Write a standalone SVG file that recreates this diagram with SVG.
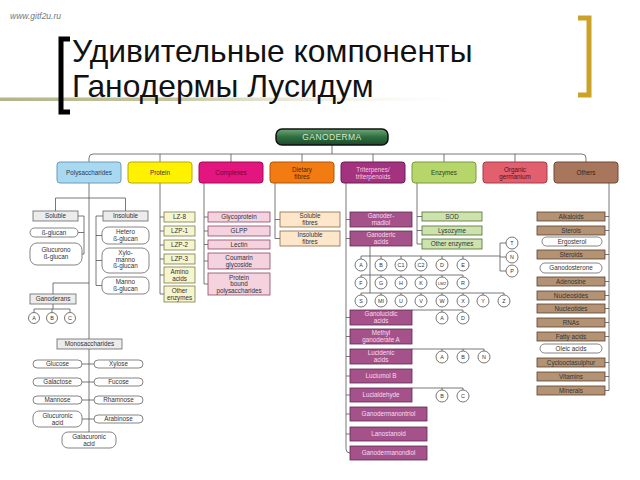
<svg xmlns="http://www.w3.org/2000/svg" width="640" height="480" viewBox="0 0 640 480">
<defs>
<linearGradient id="olive" x1="0" y1="0" x2="1" y2="0">
<stop offset="0" stop-color="#b2b58a"/><stop offset="0.35" stop-color="#c3c6a0"/><stop offset="1" stop-color="#ffffff" stop-opacity="0"/>
</linearGradient>
<linearGradient id="gano" x1="0" y1="0" x2="0" y2="1">
<stop offset="0" stop-color="#6fa87c"/><stop offset="0.5" stop-color="#2f6e40"/><stop offset="1" stop-color="#1c4a2a"/>
</linearGradient>
<style>
.t{font-family:"Liberation Sans",Arial,sans-serif;font-size:6.3px;text-anchor:middle;fill:#333}
.s{font-size:5.4px}
.ln{stroke:#555;stroke-width:0.8;fill:none}
.gb{fill:#ececec;stroke:#666;stroke-width:0.8}
.pl{fill:#fff;stroke:#666;stroke-width:0.8}
.yb{fill:#f5f5cf;stroke:#7a7a48;stroke-width:0.8}
.pb{fill:#f4d2de;stroke:#8c4a66;stroke-width:0.8}
.fb{fill:#fde6ca;stroke:#8a6a44;stroke-width:0.8}
.tb{fill:#a6528a;stroke:#5e2a50;stroke-width:0.8}
.eb{fill:#cde3ae;stroke:#4e6e34;stroke-width:0.8}
.ob{fill:#b39373;stroke:#5a4030;stroke-width:0.8}
.ci{fill:#fff;stroke:#555;stroke-width:0.8}
.tl{fill:#f6dcec}
.cat{stroke-width:1}
</style>
</defs>
<rect width="640" height="480" fill="#fff"/>
<!-- title -->
<text x="10" y="19" font-family="Liberation Sans,Arial,sans-serif" font-size="8.5" font-style="italic" fill="#777">www.gitf2u.ru</text>
<rect x="0" y="97.5" width="490" height="3.5" fill="url(#olive)"/>
<path d="M70 39 H61 V112 H70" stroke="#000" stroke-width="5" fill="none"/>
<path d="M578 18 H589 V95 H578" stroke="#c9a227" stroke-width="5" fill="none"/>
<text x="72" y="62" font-family="Liberation Sans,Arial,sans-serif" font-size="31.8" fill="#111">Удивительные компоненты</text>
<text x="72" y="97" font-family="Liberation Sans,Arial,sans-serif" font-size="31.8" fill="#111">Ганодермы Лусидум</text>

<g id="connectors" class="ln">
<path d="M332 145 V154 M89 162 V158 Q89 154 93 154 H582 Q586 154 586 158 V162 M160 154 V162 M231 154 V162 M302 154 V162 M373 154 V162 M444 154 V162 M515 154 V162"/>
<!-- polysaccharides -->
<path d="M89 183 V432 M55.5 211 V198 H125.5 V211"/>
<path d="M78 216 H84 V254 M78 232.5 H84 M82 254 H84"/>
<path d="M103 216 H96 V285.5 M96 235.5 H102 M96 260.5 H102 M96 285.5 H102"/>
<path d="M89 283 H53 V294 M53 304 V309 M34 309 H70 M34 309 V312.5 M52 309 V312.5 M70 309 V312.5"/>
<path d="M82 364 H94 M82 382 H94 M82 400 H94 M82 419 H94"/>
<!-- protein -->
<path d="M160 183 V294 M160 217 H164 M160 231 H164 M160 245 H164 M160 259 H164 M160 275 H164 M160 294 H164"/>
<!-- complexes -->
<path d="M204 183 V284 M204 217 H208 M204 231 H208 M204 244.5 H208 M204 261 H208 M204 284 H208"/>
<!-- dietary -->
<path d="M275 183 V238.5 M275 219.5 H280 M275 238.5 H280"/>
<!-- triterpenes -->
<path d="M346 183 V449 Q346 453 350 453 M346 219.5 H350 M346 238.5 H350 M346 317.5 H350 M346 336.5 H350 M346 356.5 H350 M346 376 H350 M346 395 H350 M346 414 H350 M346 434 H350"/>
<path d="M370 246 V293 M361 256 H500 M361 275 H463 M361 293 H504"/>
<path d="M361 256 V259 M381 256 V259 M401 256 V259 M421 256 V259 M442 256 V259 M463 256 V259"/>
<path d="M361 275 V277 M381 275 V277 M401 275 V277 M421 275 V277 M442 275 V277 M463 275 V277"/>
<path d="M361 293 V295 M381 293 V295 M401 293 V295 M421 293 V295 M442 293 V295 M463 293 V295 M483 293 V295 M504 293 V295"/>
<path d="M500 243 V271 M500 243 H506 M500 257 H506 M500 271 H506"/>
<path d="M412 310 H463 M442 310 V312 M463 310 V312"/>
<path d="M412 349 H484 M442 349 V351 M463 349 V351 M484 349 V351"/>
<path d="M412 388 H463 M442 388 V390 M463 388 V390"/>
<!-- enzymes -->
<path d="M417 183 V244 M417 216.5 H422 M417 230.5 H422 M417 244 H422"/>
<!-- others -->
<path d="M609 183 V390.5 M605 216.5 H609 M605 230.5 H609 M605 254.5 H609 M605 281.5 H609 M605 295.5 H609 M605 308.5 H609 M605 322.5 H609 M605 336.5 H609 M605 362.5 H609 M605 376.5 H609 M605 390.5 H609"/>
</g>

<g id="ganoderma"><rect x="276" y="129" width="112" height="16" rx="6" fill="url(#gano)" stroke="#111" stroke-width="1.5"/><text class="t" x="332" y="140.3" style="font-size:8.5px;fill:#d6e8d0;letter-spacing:0.4px">GANODERMA</text></g>

<g id="cat-polysaccharides"><rect class="cat" x="57" y="162" width="64" height="21" rx="3" fill="#a9d9f1" stroke="#6a9ab8"/><text class="t" x="89" y="175" style="fill:#1e3d5c">Polysaccharides</text></g>
<g id="cat-protein"><rect class="cat" x="128" y="162" width="64" height="21" rx="3" fill="#fff200" stroke="#b8a800"/><text class="t" x="160" y="175">Protein</text></g>
<g id="cat-complexes"><rect class="cat" x="199" y="162" width="64" height="21" rx="3" fill="#e2167e" stroke="#a00a56"/><text class="t" x="231" y="175" style="fill:#7a0038">Complexes</text></g>
<g id="cat-dietary"><rect class="cat" x="270" y="162" width="64" height="21" rx="3" fill="#f27b12" stroke="#b0560a"/><text class="t" x="302" y="171.5" style="fill:#5a2400">Dietary<tspan x="302" dy="7">fibres</tspan></text></g>
<g id="cat-triterpenes"><rect class="cat" x="341" y="162" width="64" height="21" rx="3" fill="#a3327f" stroke="#6e1a56"/><text class="t" x="373" y="171.5" style="fill:#f3cde6">Triterpenes/<tspan x="373" dy="7">triterpenoids</tspan></text></g>
<g id="cat-enzymes"><rect class="cat" x="412" y="162" width="64" height="21" rx="3" fill="#b6d66c" stroke="#7a9a3a"/><text class="t" x="444" y="175" style="fill:#2e3e14">Enzymes</text></g>
<g id="cat-organic"><rect class="cat" x="483" y="162" width="64" height="21" rx="3" fill="#e2606e" stroke="#a83a48"/><text class="t" x="515" y="171.5" style="fill:#5a0e1a">Organic<tspan x="515" dy="7">germanium</tspan></text></g>
<g id="cat-others"><rect class="cat" x="554" y="162" width="64" height="21" rx="3" fill="#a8765c" stroke="#704a34"/><text class="t" x="586" y="175" style="fill:#3a1e10">Others</text></g>

<!-- polysaccharides -->
<g id="soluble"><rect class="gb" x="33" y="211" width="45" height="10"/><text class="t" x="55.5" y="218.3">Soluble</text></g>
<g id="insoluble"><rect class="gb" x="103" y="211" width="45" height="10"/><text class="t" x="125.5" y="218.3">Insoluble</text></g>
<g id="b-glucan"><rect class="pl" x="30" y="228" width="48" height="9" rx="4.5"/><text class="t" x="54" y="234.8">ß-glucan</text></g>
<g id="glucurono"><rect class="pl" x="30" y="243" width="52" height="22" rx="7"/><text class="t" x="56" y="252">Glucurono<tspan x="56" dy="7">ß-glucan</tspan></text></g>
<g id="hetero"><rect class="pl" x="102" y="227" width="47" height="17" rx="6"/><text class="t" x="125.5" y="234">Hetero<tspan x="125.5" dy="6.5">ß-glucan</tspan></text></g>
<g id="xylomanno"><rect class="pl" x="102" y="248" width="47" height="25" rx="7"/><text class="t" x="125.5" y="255">Xylo-<tspan x="125.5" dy="6.5">manno</tspan><tspan x="125.5" dy="6.5">ß-glucan</tspan></text></g>
<g id="manno"><rect class="pl" x="102" y="277" width="47" height="17" rx="6"/><text class="t" x="125.5" y="284">Manno<tspan x="125.5" dy="6.5">ß-glucan</tspan></text></g>
<g id="ganoderans"><rect class="gb" x="30" y="294" width="46" height="10"/><text class="t" x="53" y="301.3">Ganoderans</text></g>
<g id="gd-a"><circle class="ci" cx="34" cy="318" r="5.5"/><text class="t s" x="34" y="320">A</text></g>
<g id="gd-b"><circle class="ci" cx="52" cy="318" r="5.5"/><text class="t s" x="52" y="320">B</text></g>
<g id="gd-c"><circle class="ci" cx="70" cy="318" r="5.5"/><text class="t s" x="70" y="320">C</text></g>
<g id="monosaccharides"><rect class="gb" x="57" y="339" width="65" height="10"/><text class="t" x="89.5" y="346.3">Monosaccharides</text></g>
<g id="glucose"><rect class="pl" x="33" y="360" width="49" height="8" rx="4"/><text class="t" x="57.5" y="366.2">Glucose</text></g>
<g id="xylose"><rect class="pl" x="94" y="360" width="49" height="8" rx="4"/><text class="t" x="118.5" y="366.2">Xylose</text></g>
<g id="galactose"><rect class="pl" x="33" y="378" width="49" height="8" rx="4"/><text class="t" x="57.5" y="384.2">Galactose</text></g>
<g id="fucose"><rect class="pl" x="94" y="378" width="49" height="8" rx="4"/><text class="t" x="118.5" y="384.2">Fucose</text></g>
<g id="mannose"><rect class="pl" x="33" y="396" width="49" height="8" rx="4"/><text class="t" x="57.5" y="402.2">Mannose</text></g>
<g id="rhamnose"><rect class="pl" x="94" y="396" width="49" height="8" rx="4"/><text class="t" x="118.5" y="402.2">Rhamnose</text></g>
<g id="glucuronic"><rect class="pl" x="33" y="411" width="49" height="16" rx="6"/><text class="t" x="57.5" y="418">Glucuronic<tspan x="57.5" dy="6.5">acid</tspan></text></g>
<g id="arabinose"><rect class="pl" x="94" y="415" width="49" height="8" rx="4"/><text class="t" x="118.5" y="421.2">Arabinose</text></g>
<g id="galacuronic"><rect class="pl" x="62" y="432" width="54" height="16" rx="6"/><text class="t" x="89" y="439">Galacuronic<tspan x="89" dy="6.5">acid</tspan></text></g>

<!-- protein -->
<g id="lz8"><rect class="yb" x="164" y="212" width="31" height="10"/><text class="t" x="179.5" y="219.3">LZ-8</text></g>
<g id="lzp1"><rect class="yb" x="164" y="226" width="31" height="10"/><text class="t" x="179.5" y="233.3">LZP-1</text></g>
<g id="lzp2"><rect class="yb" x="164" y="240" width="31" height="10"/><text class="t" x="179.5" y="247.3">LZP-2</text></g>
<g id="lzp3"><rect class="yb" x="164" y="254" width="31" height="10"/><text class="t" x="179.5" y="261.3">LZP-3</text></g>
<g id="amino"><rect class="yb" x="164" y="267" width="31" height="16"/><text class="t" x="179.5" y="274">Amino<tspan x="179.5" dy="6.5">acids</tspan></text></g>
<g id="otherenz-p"><rect class="yb" x="164" y="286" width="31" height="16"/><text class="t" x="179.5" y="293">Other<tspan x="179.5" dy="6.5">enzymes</tspan></text></g>

<!-- complexes -->
<g id="glycoprotein"><rect class="pb" x="208" y="212" width="62" height="10"/><text class="t" x="239" y="219.3">Glycoprotein</text></g>
<g id="glpp"><rect class="pb" x="208" y="226" width="62" height="10"/><text class="t" x="239" y="233.3">GLPP</text></g>
<g id="lectin"><rect class="pb" x="208" y="240" width="62" height="9"/><text class="t" x="239" y="246.8">Lectin</text></g>
<g id="coumarin"><rect class="pb" x="208" y="253" width="62" height="16"/><text class="t" x="239" y="260">Coumarin<tspan x="239" dy="6.5">glycoside</tspan></text></g>
<g id="pbp"><rect class="pb" x="208" y="273" width="62" height="22"/><text class="t" x="239" y="279.8">Protein<tspan x="239" dy="6.5">bound</tspan><tspan x="239" dy="6.5">polysaccharides</tspan></text></g>

<!-- dietary -->
<g id="solfib"><rect class="fb" x="280" y="212" width="60" height="15"/><text class="t" x="310" y="218.3">Soluble<tspan x="310" dy="6.5">fibres</tspan></text></g>
<g id="insolfib"><rect class="fb" x="280" y="231" width="60" height="15"/><text class="t" x="310" y="237.3">Insoluble<tspan x="310" dy="6.5">fibres</tspan></text></g>

<!-- triterpenes -->
<g id="ganodermadiol"><rect class="tb" x="350" y="212" width="62" height="15"/><text class="t tl" x="381" y="218.3">Ganoder-<tspan x="381" dy="6.5">madiol</tspan></text></g>
<g id="ganoderic"><rect class="tb" x="350" y="231" width="62" height="15"/><text class="t tl" x="381" y="237.3">Ganoderic<tspan x="381" dy="6.5">acids</tspan></text></g>
<g id="ganolucidic"><rect class="tb" x="350" y="310" width="62" height="15"/><text class="t tl" x="381" y="316.3">Ganolucidic<tspan x="381" dy="6.5">acids</tspan></text></g>
<g id="methyl"><rect class="tb" x="350" y="329" width="62" height="15"/><text class="t tl" x="381" y="335.3">Methyl<tspan x="381" dy="6.5">ganoderate A</tspan></text></g>
<g id="lucidenic"><rect class="tb" x="350" y="349" width="62" height="15"/><text class="t tl" x="381" y="355.3">Lucidenic<tspan x="381" dy="6.5">acids</tspan></text></g>
<g id="luciumol"><rect class="tb" x="350" y="369" width="62" height="14"/><text class="t tl" x="381" y="378.2">Luciumol B</text></g>
<g id="lucialdehyde"><rect class="tb" x="350" y="388" width="62" height="14"/><text class="t tl" x="381" y="397.2">Lucialdehyde</text></g>
<g id="ganodermanontriol"><rect class="tb" x="350" y="407" width="77" height="14"/><text class="t tl" x="388.5" y="416.2">Ganodermanontriol</text></g>
<g id="lanostanoid"><rect class="tb" x="350" y="427" width="77" height="14"/><text class="t tl" x="388.5" y="436.2">Lanostanoid</text></g>
<g id="ganodermanondiol"><rect class="tb" x="350" y="446" width="77" height="14"/><text class="t tl" x="388.5" y="455.2">Ganodermanondiol</text></g>

<g id="ga-circles">
<g id="ga-A"><circle class="ci" cx="361" cy="265" r="6"/><text class="t s" x="361" y="267">A</text></g>
<g id="ga-B"><circle class="ci" cx="381" cy="265" r="6"/><text class="t s" x="381" y="267">B</text></g>
<g id="ga-C1"><circle class="ci" cx="401" cy="265" r="6"/><text class="t s" x="401" y="267">C1</text></g>
<g id="ga-C2"><circle class="ci" cx="421" cy="265" r="6"/><text class="t s" x="421" y="267">C2</text></g>
<g id="ga-D"><circle class="ci" cx="442" cy="265" r="6"/><text class="t s" x="442" y="267">D</text></g>
<g id="ga-E"><circle class="ci" cx="463" cy="265" r="6"/><text class="t s" x="463" y="267">E</text></g>
<g id="ga-F"><circle class="ci" cx="361" cy="283" r="6"/><text class="t s" x="361" y="285">F</text></g>
<g id="ga-G"><circle class="ci" cx="381" cy="283" r="6"/><text class="t s" x="381" y="285">G</text></g>
<g id="ga-H"><circle class="ci" cx="401" cy="283" r="6"/><text class="t s" x="401" y="285">H</text></g>
<g id="ga-K"><circle class="ci" cx="421" cy="283" r="6"/><text class="t s" x="421" y="285">K</text></g>
<g id="ga-LM2"><circle class="ci" cx="442" cy="283" r="6"/><text class="t s" x="442" y="285" style="font-size:4.2px">LM2</text></g>
<g id="ga-R"><circle class="ci" cx="463" cy="283" r="6"/><text class="t s" x="463" y="285">R</text></g>
<g id="ga-S"><circle class="ci" cx="361" cy="301" r="6"/><text class="t s" x="361" y="303">S</text></g>
<g id="ga-MI"><circle class="ci" cx="381" cy="301" r="6"/><text class="t s" x="381" y="303">MI</text></g>
<g id="ga-U"><circle class="ci" cx="401" cy="301" r="6"/><text class="t s" x="401" y="303">U</text></g>
<g id="ga-V"><circle class="ci" cx="421" cy="301" r="6"/><text class="t s" x="421" y="303">V</text></g>
<g id="ga-W"><circle class="ci" cx="442" cy="301" r="6"/><text class="t s" x="442" y="303">W</text></g>
<g id="ga-X"><circle class="ci" cx="463" cy="301" r="6"/><text class="t s" x="463" y="303">X</text></g>
<g id="ga-Y"><circle class="ci" cx="483" cy="301" r="6"/><text class="t s" x="483" y="303">Y</text></g>
<g id="ga-Z"><circle class="ci" cx="504" cy="301" r="6"/><text class="t s" x="504" y="303">Z</text></g>
<g id="ga-T"><circle class="ci" cx="512" cy="243" r="6"/><text class="t s" x="512" y="245">T</text></g>
<g id="ga-N"><circle class="ci" cx="512" cy="257" r="6"/><text class="t s" x="512" y="259">N</text></g>
<g id="ga-P"><circle class="ci" cx="512" cy="271" r="6"/><text class="t s" x="512" y="273">P</text></g>
<g id="gl-A"><circle class="ci" cx="442" cy="318" r="6"/><text class="t s" x="442" y="320">A</text></g>
<g id="gl-D"><circle class="ci" cx="463" cy="318" r="6"/><text class="t s" x="463" y="320">D</text></g>
<g id="la-A"><circle class="ci" cx="442" cy="357" r="6"/><text class="t s" x="442" y="359">A</text></g>
<g id="la-B"><circle class="ci" cx="463" cy="357" r="6"/><text class="t s" x="463" y="359">B</text></g>
<g id="la-N"><circle class="ci" cx="484" cy="357" r="6"/><text class="t s" x="484" y="359">N</text></g>
<g id="ld-B"><circle class="ci" cx="442" cy="396" r="6"/><text class="t s" x="442" y="398">B</text></g>
<g id="ld-C"><circle class="ci" cx="463" cy="396" r="6"/><text class="t s" x="463" y="398">C</text></g>
</g>

<!-- enzymes -->
<g id="sod"><rect class="eb" x="422" y="212" width="60" height="9"/><text class="t" x="452" y="218.8">SOD</text></g>
<g id="lysozyme"><rect class="eb" x="422" y="226" width="60" height="9"/><text class="t" x="452" y="232.8">Lysozyme</text></g>
<g id="otherenz"><rect class="eb" x="422" y="239" width="60" height="10"/><text class="t" x="452" y="246.3">Other enzymes</text></g>

<!-- others -->
<g id="alkaloids"><rect class="ob" x="537" y="212" width="68" height="9"/><text class="t" x="571" y="218.8">Alkaloids</text></g>
<g id="sterols"><rect class="ob" x="537" y="226" width="68" height="9"/><text class="t" x="571" y="232.8">Sterols</text></g>
<g id="ergosterol"><rect class="pl" x="542" y="237" width="60" height="9" rx="4.5"/><text class="t" x="572" y="243.8">Ergosterol</text></g>
<g id="steroids"><rect class="ob" x="537" y="250" width="68" height="9"/><text class="t" x="571" y="256.8">Steroids</text></g>
<g id="ganodosterone"><rect class="pl" x="540" y="263" width="62" height="10" rx="5"/><text class="t" x="571" y="270.3">Ganodosterone</text></g>
<g id="adenosine"><rect class="ob" x="537" y="277" width="68" height="9"/><text class="t" x="571" y="283.8">Adenosine</text></g>
<g id="nucleosides"><rect class="ob" x="537" y="291" width="68" height="9"/><text class="t" x="571" y="297.8">Nucleosides</text></g>
<g id="nucleotides"><rect class="ob" x="537" y="304" width="68" height="9"/><text class="t" x="571" y="310.8">Nucleotides</text></g>
<g id="rnas"><rect class="ob" x="537" y="318" width="68" height="9"/><text class="t" x="571" y="324.8">RNAs</text></g>
<g id="fatty"><rect class="ob" x="537" y="332" width="68" height="9"/><text class="t" x="571" y="338.8">Fatty acids</text></g>
<g id="oleic"><rect class="pl" x="540" y="344" width="62" height="9" rx="4.5"/><text class="t" x="571" y="350.8">Oleic acids</text></g>
<g id="cyclo"><rect class="ob" x="537" y="358" width="68" height="9"/><text class="t" x="571" y="364.8">Cyclooctasulphur</text></g>
<g id="vitamins"><rect class="ob" x="537" y="372" width="68" height="9"/><text class="t" x="571" y="378.8">Vitamins</text></g>
<g id="minerals"><rect class="ob" x="537" y="386" width="68" height="9"/><text class="t" x="571" y="392.8">Minerals</text></g>
</svg>
